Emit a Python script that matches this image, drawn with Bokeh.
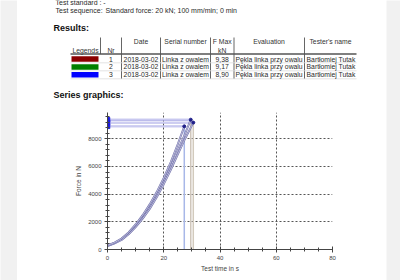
from bokeh.plotting import figure
from bokeh.models import ColumnDataSource, Range1d, FixedTicker
from bokeh.layouts import column, row
from bokeh.core.properties import value
from bokeh.embed import file_html
from bokeh.resources import INLINE

FONT = value("Liberation Sans")
PAGE_L, PAGE_R = 17, 386
GRAY = "#f1f1f1"

# ---------------- data ----------------
header_line1 = "Test standard :  -"
header_line2a = "Test sequence:"
header_line2b = "Standard force: 20  kN;  100  mm/min;  0  min"

col_headers = ["Legends", "Nr", "Date", "Serial number", "F Max", "kN", "Evaluation", "Tester's name"]
legend_colors = ["#8b0000", "#008000", "#0000ff"]
nr = ["1", "2", "3"]
dates = ["2018-03-02", "2018-03-02", "2018-03-02"]
serials = ["Linka z owalem", "Linka z owalem", "Linka z owalem"]
fmax_text = ["9,38", "9,17", "8,90"]
evaluations = ["Pękla linka przy owalu", "Pękla linka przy owalu", "Pękla linka przy owalu"]
testers = ["Bartłomiej Tutak", "Bartłomiej Tutak", "Bartłomiej Tutak"]

# series curves (time s, force N)
t1 = [0, 2.5, 5, 7.5, 10, 12.5, 15, 17.5, 20, 22.5, 25, 27.5, 29.6]
f1 = [280, 470, 740, 1180, 1720, 2350, 3080, 3950, 4920, 6000, 7180, 8320, 9380]
t2 = [0, 2.5, 5, 7.5, 10, 12.5, 15, 17.5, 20, 22.5, 25, 27.5, 30.5]
f2 = [250, 440, 690, 1100, 1620, 2230, 2930, 3770, 4720, 5760, 6880, 7970, 9170]
t3 = [0, 2.5, 5, 7.5, 10, 12.5, 15, 17.5, 20, 22.5, 25, 27.3]
f3 = [300, 500, 790, 1240, 1810, 2480, 3260, 4150, 5180, 6320, 7620, 8900]

x_ticks = [0, 20, 40, 60, 80]
x_minor = [5, 10, 15, 25, 30, 35, 45, 50, 55, 65, 70, 75]
y_ticks = [0, 2000, 4000, 6000, 8000]
y_minor = [400, 800, 1200, 1600, 2400, 2800, 3200, 3600, 4400, 4800, 5200, 5600,
           6400, 6800, 7200, 7600, 8400, 8800, 9200, 9600]


def blank(w, h, color):
    f = figure(width=w, height=h, output_backend="svg", toolbar_location=None,
               min_border=0, x_axis_location=None, y_axis_location=None,
               x_range=Range1d(0, 1), y_range=Range1d(0, 1))
    f.grid.visible = False
    f.outline_line_color = None
    f.background_fill_color = color
    f.border_fill_color = color
    f.frame_align = False
    return f


left_pad = blank(PAGE_L, 280, GRAY)
right_pad = blank(400 - PAGE_R, 280, GRAY)

# ---------------- top part (page header + table) ----------------
W = PAGE_R - PAGE_L
top = figure(width=W, height=100, x_range=Range1d(PAGE_L, PAGE_R), y_range=Range1d(100, 0),
             output_backend="svg", toolbar_location=None, min_border=0,
             x_axis_location=None, y_axis_location=None)
top.grid.visible = False
top.outline_line_color = None
top.background_fill_color = "white"
top.border_fill_color = "white"
top.frame_align = False


def txt(fig, x, y, s, size="7px", align="left", bold=False, color="#2a2a2a"):
    fig.text(x=[x], y=[y], text=[s], text_font=FONT, text_font_size=size,
             text_align=align, text_baseline="middle", text_color=color,
             text_font_style="bold" if bold else "normal")


txt(top, 55, 1.5, header_line1)
txt(top, 55, 10, header_line2a)
txt(top, 105, 10, header_line2b)
txt(top, 53, 27.5, "Results:", size="9px", bold=True, color="#111")
txt(top, 53, 94, "Series graphics:", size="9px", bold=True, color="#111")

# table header
hx = [85, 110.5, 140.5, 185, 221.7, 221.7, 268.5, 330]
hy = [49.5, 49.5, 41, 41, 41, 49.5, 41, 41]
top.text(x=hx, y=hy, text=col_headers, text_font=FONT, text_font_size="6.8px",
         text_align="center", text_baseline="middle", text_color="#333")

# table lines
top.segment(x0=[100], y0=[37], x1=[100], y1=[53.5], line_color="#666", line_width=1)
top.segment(x0=[121, 160, 210, 233.5, 304], y0=[37] * 5, x1=[121, 160, 210, 233.5, 304],
            y1=[78.5] * 5, line_color="#666", line_width=1)
top.segment(x0=[70], y0=[53.5], x1=[356], y1=[53.5], line_color="#555", line_width=1.5)
top.segment(x0=[70, 70, 70], y0=[62.3, 70.3, 78.3], x1=[356, 356, 356], y1=[62.3, 70.3, 78.3],
            line_color="#dcdcdc", line_width=0.8)

row_y = [58.5, 66.4, 74.3]
top.rect(x=[84.5] * 3, y=row_y, width=27, height=5.5, fill_color=legend_colors,
         line_color=None)
rows = ColumnDataSource(dict(y=row_y, nr=nr, d=dates, s=serials, f=fmax_text,
                             e=evaluations, t=testers))
for cx, field in [(110.5, "nr"), (140.5, "d"), (185, "s"), (221.7, "f"),
                  (268.5, "e"), (330.5, "t")]:
    top.text(x=cx, y="y", text=field, source=rows, text_font=FONT, text_font_size="6.8px",
             text_align="center", text_baseline="middle", text_color="#2a2a2a")

# ---------------- chart ----------------
p = figure(width=W, height=180, x_range=Range1d(0, 80), y_range=Range1d(0, 9900),
           output_backend="svg", toolbar_location=None,
           min_border_left=107 - PAGE_L, min_border_right=PAGE_R - 332,
           min_border_top=12, min_border_bottom=31)
p.outline_line_color = None
p.background_fill_color = "white"
p.border_fill_color = "white"
p.frame_align = False

p.xaxis.ticker = FixedTicker(ticks=x_ticks, minor_ticks=x_minor)
p.yaxis.ticker = FixedTicker(ticks=y_ticks, minor_ticks=y_minor)
p.xgrid.ticker = FixedTicker(ticks=x_ticks[1:])
p.ygrid.ticker = FixedTicker(ticks=y_ticks[1:])
p.grid.grid_line_color = "#555"
p.grid.grid_line_dash = "2 2"
p.grid.grid_line_width = 1

for ax in (p.xaxis[0], p.yaxis[0]):
    ax.axis_line_color = "#444"
    ax.major_tick_line_color = "#444"
    ax.minor_tick_line_color = "#444"
    ax.major_tick_in = 3
    ax.major_tick_out = 3
    ax.minor_tick_in = 2
    ax.minor_tick_out = 2
    ax.major_label_text_font = "Liberation Sans"
    ax.major_label_text_font_size = "6px"
    ax.major_label_text_color = "#444"
    ax.axis_label_text_font = "Liberation Sans"
    ax.axis_label_text_font_size = "6.5px"
    ax.axis_label_text_font_style = "normal"
    ax.axis_label_text_color = "#444"
p.xaxis.axis_label = "Test time in s"
p.yaxis.axis_label = "Force in N"
p.xaxis.major_label_standoff = 3
p.yaxis.major_label_standoff = 3
p.xaxis.axis_label_standoff = 2
p.yaxis.axis_label_standoff = 3

series = [(t1, f1), (t2, f2), (t3, f3)]
zero_colors = ["#e3a8a8", "#a8d0a8", "#a8b4ec"]
drop_colors = ["#cfc6bb", "#d2cabd", "#a8b8e8"]
x_end = x_ticks[-1]

# zero lines after break
for (t, f), c in zip(series[::-1], zero_colors[::-1]):
    p.line([t[-1], x_end], [0, 0], line_color=c, line_width=1.2)
# drop lines
for (t, f), c in zip(series, drop_colors):
    p.line([t[-1], t[-1]], [f[-1], 0], line_color=c, line_width=1.5)
# max force indicator lines
for t, f in series:
    p.line([0, t[-1]], [f[-1], f[-1]], line_color="#9c9ce2", line_width=1.9)
    p.line([0, t[-1]], [f[-1], f[-1]], line_color="#f6f6ff", line_width=0.6)
# curves
for t, f in series:
    p.line(t, f, line_color="#6e6eaa", line_width=1.9)
    p.line(t, f, line_color="#f2f2fa", line_width=0.6)
# markers
p.scatter([0, 0, 0], [f1[-1], f2[-1], f3[-1]], marker="square", size=4.5,
          fill_color="#1a1ae0", line_color="#1a1ae0")
p.scatter([t1[-1], t2[-1], t3[-1]], [f1[-1], f2[-1], f3[-1]], size=3,
          fill_color="#20208a", line_color="#20208a")

layout = row(left_pad, column(top, p, spacing=0), right_pad, spacing=0)
open("out.html", "w").write(file_html(layout, INLINE))
